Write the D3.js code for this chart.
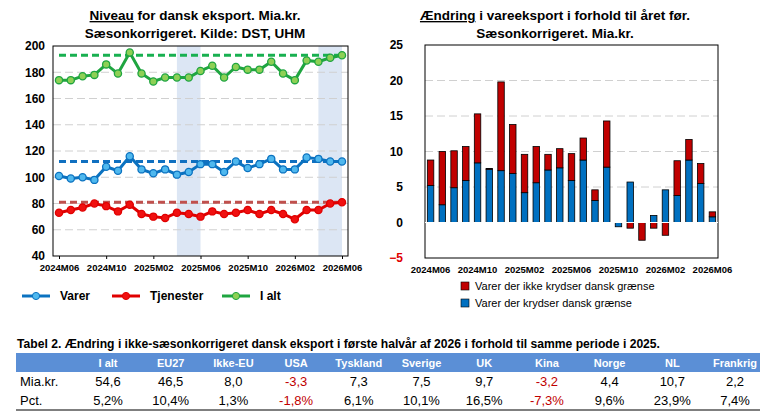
<!DOCTYPE html>
<html><head><meta charset="utf-8">
<script src="https://cdn.jsdelivr.net/npm/d3@7"></script>
<style>body{margin:0;background:#fff}text{font-family:"Liberation Sans Narrow","Liberation Sans",Arial,sans-serif}</style>
</head><body><svg id="c" width="771" height="417"></svg>
<script>
const months=["2024M06","2024M07","2024M08","2024M09","2024M10","2024M11","2024M12","2025M01","2025M02","2025M03","2025M04","2025M05","2025M06","2025M07","2025M08","2025M09","2025M10","2025M11","2025M12","2026M01","2026M02","2026M03","2026M04","2026M05","2026M06"];
const iAlt=[174,174,177,178,186,179,195,179,173,176,176,176,181,185,176,184,182,182,188,179,174,189,188,191,193];
const varer=[101,99,100,98,108,105,116,106,103,106,102,104,110,110,104,112,107,110,114,106,106,115,114,112,112];
const tjen=[73,75,77,80,78,74,79,72,70,69,73,72,70,74,72,73,75,72,75,72,68,75,75,80,81];
const refLines={iAlt:193,varer:112,tjen:81};
const blueBars=[5.2,2.5,4.9,5.9,8.4,7.5,7.3,6.9,4.2,5.6,7.4,7.7,5.9,8.8,3.1,7.8,-0.6,5.7,0,1.0,4.6,3.8,8.8,5.5,0.8];
const redBars=[3.6,7.5,5.2,4.8,6.9,0.1,12.5,6.9,5.4,5.1,2.2,2.7,3.8,3.1,1.5,6.5,0,-0.8,-2.5,-0.8,-1.8,4.9,2.9,2.8,0.7];
const tickLabels=["2024M06","2024M10","2025M02","2025M06","2025M10","2026M02","2026M06"];
const tblCols=["I alt","EU27","Ikke-EU","USA","Tyskland","Sverige","UK","Kina","Norge","NL","Frankrig"];
const tblMia=["54,6","46,5","8,0","-3,3","7,3","7,5","9,7","-3,2","4,4","10,7","2,2"];
const tblPct=["5,2%","10,4%","1,3%","-1,8%","6,1%","10,1%","16,5%","-7,3%","9,6%","23,9%","7,4%"];

const svg=d3.select("#c");
const bold="bold";
// ---- Left chart
const L={x0:53,x1:348,y0:46,y1:256};
const xl=d3.scalePoint().domain(months).range([59,342]);
const yl=d3.scaleLinear().domain([40,200]).range([L.y1,L.y0]);
const gl=svg.append("g");
[["2025M04","2025M06"],["2026M04","2026M06"]].forEach(([a,b])=>gl.append("rect").attr("x",xl(a)).attr("width",xl(b)-xl(a)).attr("y",L.y0).attr("height",L.y1-L.y0).attr("fill","#dce6f4"));
yl.ticks(8).forEach(t=>{ if(t>40&&t<200) gl.append("line").attr("x1",L.x0).attr("x2",L.x1).attr("y1",yl(t)).attr("y2",yl(t)).attr("stroke","#d0d0d0").attr("stroke-dasharray","8,4");});
gl.append("rect").attr("x",L.x0).attr("y",L.y0).attr("width",L.x1-L.x0).attr("height",L.y1-L.y0).attr("fill","none").attr("stroke","#000");
const ayl=gl.append("g").attr("transform",`translate(${L.x0},0)`).call(d3.axisLeft(yl).ticks(8).tickSize(0).tickPadding(8));
ayl.select(".domain").remove();ayl.selectAll("text").attr("font-size",12).attr("font-weight",bold).attr("fill","#000");
const axl=gl.append("g").attr("transform",`translate(0,${L.y1})`).call(d3.axisBottom(xl).tickValues(tickLabels).tickSize(3).tickPadding(5));
axl.select(".domain").remove();axl.selectAll("text").attr("font-size",9.5).attr("font-weight",bold).attr("fill","#000");
const series=[{d:iAlt,r:refLines.iAlt,c:"#1fa540",f:"#8ed055",dash:"#18b050"},{d:varer,r:refLines.varer,c:"#0b72c0",f:"#4fb8ee",dash:"#1070c0"},{d:tjen,r:refLines.tjen,c:"#e00000",f:"#f01010",dash:"#c0504d"}];
const line=d3.line().x((d,i)=>xl(months[i])).y(d=>yl(d));
series.forEach(s=>{
 gl.append("line").attr("x1",xl(months[0])).attr("x2",xl(months[24])).attr("y1",yl(s.r)).attr("y2",yl(s.r)).attr("stroke",s.dash).attr("stroke-width",3).attr("stroke-dasharray","7,4");
 gl.append("path").attr("d",line(s.d)).attr("fill","none").attr("stroke",s.c).attr("stroke-width",3);
 gl.selectAll(null).data(s.d).enter().append("circle").attr("cx",(d,i)=>xl(months[i])).attr("cy",d=>yl(d)).attr("r",3.6).attr("fill",s.f).attr("stroke",s.c).attr("stroke-width",1.3);
});
const t1=svg.append("text").attr("x",195).attr("y",20).attr("text-anchor","middle").attr("font-size",13.5).attr("font-weight",bold);
t1.append("tspan").attr("text-decoration","underline").text("Niveau");t1.append("tspan").text(" for dansk eksport. Mia.kr.");
svg.append("text").attr("x",195).attr("y",38).attr("text-anchor","middle").attr("font-size",13.5).attr("font-weight",bold).text("Sæsonkorrigeret. Kilde: DST, UHM");
[["Varer",series[1],62],["Tjenester",series[2],152],["I alt",series[0],262]].forEach(([n,s,x])=>{
 svg.append("line").attr("x1",x-40).attr("x2",x-12).attr("y1",296).attr("y2",296).attr("stroke",s.c).attr("stroke-width",3);
 svg.append("circle").attr("cx",x-26).attr("cy",296).attr("r",3.6).attr("fill",s.f).attr("stroke",s.c);
 svg.append("text").attr("x",x-2).attr("y",300).attr("font-size",12).attr("font-weight",bold).text(n);
});
// ---- Right chart
const R={x0:425,x1:718,y0:45,y1:258};
const xr=d3.scaleBand().domain(months).range([R.x0,R.x1]).paddingInner(0.45).paddingOuter(0.2);
const yr=d3.scaleLinear().domain([-5,25]).range([R.y1,R.y0]);
const gr=svg.append("g");
[5,10,15,20].forEach(t=>gr.append("line").attr("x1",R.x0).attr("x2",R.x1).attr("y1",yr(t)).attr("y2",yr(t)).attr("stroke","#d0d0d0").attr("stroke-dasharray","8,4"));
gr.append("rect").attr("x",R.x0).attr("y",R.y0).attr("width",R.x1-R.x0).attr("height",R.y1-R.y0).attr("fill","none").attr("stroke","#000");
const rows=months.map((m,i)=>({m,blue:blueBars[i],red:redBars[i]}));
const st=d3.stack().keys(["blue","red"]).offset(d3.stackOffsetDiverging)(rows);
const cols={blue:"#0070c0",red:"#c00000"};
st.forEach(layer=>gr.selectAll(null).data(layer).enter().filter(d=>d[1]!==d[0]).append("rect")
 .attr("x",d=>xr(d.data.m)).attr("width",xr.bandwidth()).attr("y",d=>yr(Math.max(d[0],d[1]))).attr("height",d=>Math.abs(yr(d[0])-yr(d[1])))
 .attr("fill",cols[layer.key]).attr("stroke","#000").attr("stroke-width",0.8));
gr.append("line").attr("x1",R.x0).attr("x2",R.x1).attr("y1",yr(0)).attr("y2",yr(0)).attr("stroke","#fff").attr("stroke-width",1.2);
const ayr=gr.append("g").attr("transform",`translate(${R.x0},0)`).call(d3.axisLeft(yr).ticks(6).tickSize(0).tickPadding(22));
ayr.select(".domain").remove();ayr.selectAll("text").attr("font-size",12).attr("font-weight",bold).attr("fill",d=>d<0?"#e00000":"#000");
const axr=gr.append("g").attr("transform",`translate(0,${R.y1})`).call(d3.axisBottom(xr).tickValues(tickLabels).tickSize(0).tickPadding(8));
axr.select(".domain").remove();axr.selectAll("text").attr("font-size",9.5).attr("font-weight",bold).attr("fill","#000");
svg.append("text").attr("x",555).attr("y",20).attr("text-anchor","middle").attr("font-size",13.5).attr("font-weight",bold).html('<tspan text-decoration="underline">Ændring</tspan> i vareeksport i forhold til året før.');
svg.append("text").attr("x",555).attr("y",38).attr("text-anchor","middle").attr("font-size",13.5).attr("font-weight",bold).text("Sæsonkorrigeret. Mia.kr.");
[["Varer der ikke krydser dansk grænse","red",287],["Varer der krydser dansk grænse","blue",304]].forEach(([n,k,y])=>{
 svg.append("rect").attr("x",461).attr("y",y-5).attr("width",8).attr("height",8).attr("fill",cols[k]).attr("stroke","#000").attr("stroke-width",0.6);
 svg.append("text").attr("x",475).attr("y",y+3).attr("font-size",11).text(n);
});
// ---- Table
svg.append("text").attr("x",17).attr("y",348).attr("font-size",12.5).attr("font-weight",bold).attr("textLength",643).attr("lengthAdjust","spacingAndGlyphs").text("Tabel 2. Ændring i ikke-sæsonkorrigeret dansk eksport i første halvår af 2026 i forhold til samme periode i 2025.");
svg.append("rect").attr("x",16).attr("y",353).attr("width",744).attr("height",19).attr("fill","#5b8fd6");
const xt=d3.scalePoint().domain(tblCols).range([108,735]);
tblCols.forEach((c,i)=>{
 svg.append("text").attr("x",xt(c)).attr("y",367).attr("text-anchor","middle").attr("fill","#fff").attr("font-size",11).attr("font-weight",bold).text(c);
 [[tblMia[i],386],[tblPct[i],405]].forEach(([v,y])=>svg.append("text").attr("x",xt(c)).attr("y",y).attr("text-anchor","middle").attr("font-size",13).attr("fill",v.startsWith("-")?"#c00000":"#000").text(v));
});
svg.append("text").attr("x",20).attr("y",386).attr("font-size",13).text("Mia.kr.");
svg.append("text").attr("x",20).attr("y",405).attr("font-size",13).text("Pct.");
svg.append("line").attr("x1",16).attr("x2",760).attr("y1",410).attr("y2",410).attr("stroke","#000").attr("stroke-width",1.2);
</script></body></html>
